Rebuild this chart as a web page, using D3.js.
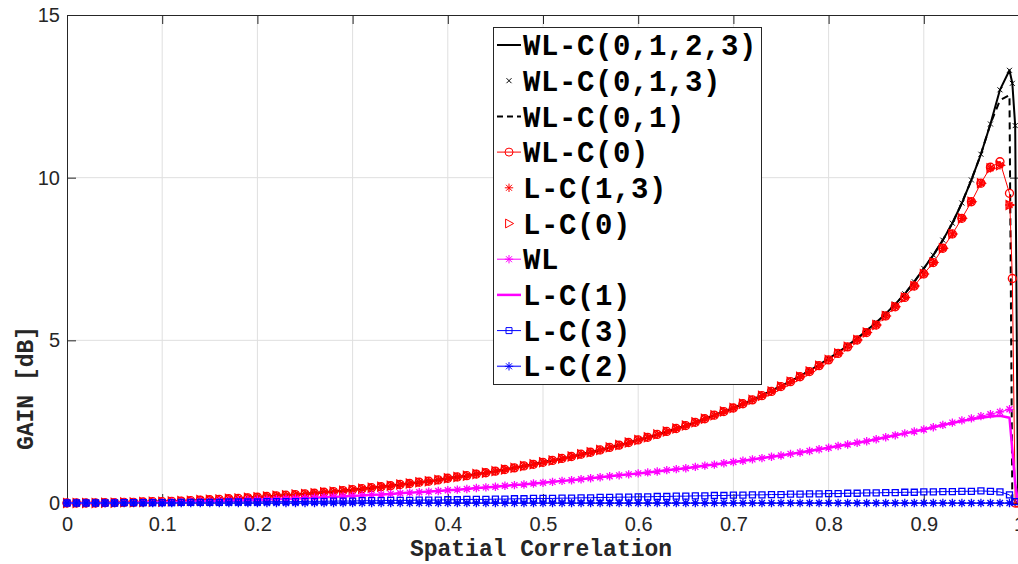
<!DOCTYPE html>
<html>
<head>
<meta charset="utf-8">
<script src="https://cdn.jsdelivr.net/npm/d3@7"></script>
<style>
  body { margin: 0; background: #fff; }
  svg { display: block; }
</style>
</head>
<body>
<svg></svg>
<script>
// sample positions: 0 .. 0.99 step 0.01, then a few points close to 1
var rho = d3.range(100).map(function(i){ return i / 100; });
var rhoTail = [0.993, 0.996, 0.999];

// WL-C(0,1,2,3)
var wlc0123 = [
  0.00,0.00,0.00,0.00,0.01,0.01,0.02,0.02,0.03,0.04,
  0.04,0.05,0.06,0.07,0.09,0.10,0.11,0.13,0.14,0.16,
  0.18,0.20,0.22,0.24,0.26,0.28,0.30,0.33,0.35,0.38,
  0.41,0.44,0.47,0.50,0.53,0.57,0.60,0.64,0.67,0.71,
  0.76,0.80,0.84,0.89,0.93,0.98,1.03,1.08,1.14,1.19,
  1.25,1.31,1.37,1.43,1.50,1.56,1.63,1.71,1.78,1.86,
  1.94,2.02,2.11,2.20,2.29,2.38,2.48,2.59,2.70,2.81,
  2.92,3.05,3.17,3.31,3.45,3.59,3.74,3.90,4.07,4.25,
  4.44,4.63,4.84,5.06,5.30,5.55,5.82,6.11,6.43,6.80,
  7.21,7.62,8.08,8.60,9.22,9.93,10.72,11.65,12.70,13.30
];
var wlc0123Tail = [12.9, 11.6, 0];

// WL-C(0,1,3) markers sit on the same curve
var wlc013 = wlc0123;
var wlc013Tail = wlc0123Tail;

// WL-C(0,1) dashed: same until the peak, then drops early
var wlc01 = wlc0123.slice(0, 98).concat([12.38, 12.54]);
var wlc01Tail = [0, 0, 0];

// WL-C(0) red circles
var wlc0 = wlc0123.slice(0, 73).concat([
  3.30,3.43,3.58,3.73,3.88,4.04,4.22,
  4.40,4.60,4.80,5.01,5.24,5.47,5.75,6.03,6.32,6.67,
  7.04,7.39,7.83,8.27,8.75,9.26,9.83,10.32,10.49,9.52
]);
var wlc0Tail = [6.9, 0, 0];

// L-C(1,3) and L-C(0), red markers only
var lc13 = wlc0.slice(0, 97).concat([10.29, 10.38, 9.16]);
var lc0 = wlc0.slice(0, 97).concat([10.29, 10.38, 9.16]);
var noTail = [null, null, null];

// WL magenta with asterisks
var wl = [
  0.00,0.00,0.00,0.00,0.00,0.01,0.01,0.01,0.02,0.02,
  0.02,0.03,0.03,0.04,0.05,0.05,0.06,0.07,0.08,0.09,
  0.10,0.11,0.12,0.13,0.14,0.15,0.16,0.18,0.19,0.20,
  0.22,0.23,0.25,0.26,0.28,0.30,0.32,0.33,0.35,0.37,
  0.39,0.41,0.43,0.46,0.48,0.50,0.53,0.55,0.57,0.60,
  0.62,0.65,0.68,0.70,0.73,0.76,0.79,0.82,0.85,0.88,
  0.91,0.94,0.97,1.01,1.04,1.07,1.11,1.15,1.18,1.22,
  1.26,1.30,1.34,1.38,1.42,1.46,1.51,1.55,1.60,1.65,
  1.70,1.75,1.80,1.85,1.90,1.96,2.02,2.08,2.14,2.20,
  2.26,2.33,2.40,2.47,2.54,2.60,2.67,2.73,2.80,2.88
];

// L-C(1) magenta thick line
var lc1 = wl.slice(0, 93).concat([2.46, 2.52, 2.57, 2.62, 2.66, 2.68, 2.62]);
var lc1Tail = [1.64, 0.6, 0];

// L-C(3) blue squares
var lc3 = [
  0.00,0.00,0.00,0.00,0.00,0.00,0.01,0.01,0.01,0.01,
  0.01,0.01,0.02,0.02,0.02,0.02,0.02,0.03,0.03,0.03,
  0.03,0.04,0.04,0.04,0.04,0.05,0.05,0.05,0.06,0.06,
  0.06,0.07,0.07,0.07,0.08,0.08,0.08,0.09,0.09,0.09,
  0.10,0.10,0.11,0.11,0.11,0.12,0.12,0.13,0.13,0.14,
  0.14,0.14,0.15,0.15,0.16,0.16,0.17,0.17,0.18,0.18,
  0.19,0.19,0.20,0.20,0.21,0.21,0.22,0.22,0.23,0.23,
  0.24,0.24,0.25,0.25,0.26,0.26,0.27,0.27,0.28,0.28,
  0.29,0.29,0.30,0.30,0.31,0.31,0.32,0.32,0.33,0.33,
  0.34,0.34,0.35,0.35,0.36,0.36,0.37,0.36,0.34,0.25
];
var lc3Tail = [null, 0.04, null];

// L-C(2) blue asterisks, flat at zero
var lc2 = [
  0,0,0,0,0,0,0,0,0,0,
  0,0,0,0,0,0,0,0,0,0,
  0,0,0,0,0,0,0,0,0,0,
  0,0,0,0,0,0,0,0,0,0,
  0,0,0,0,0,0,0,0,0,0,
  0,0,0,0,0,0,0,0,0,0,
  0,0,0,0,0,0,0,0,0,0,
  0,0,0,0,0,0,0,0,0,0,
  0,0,0,0,0,0,0,0,0,0,
  0,0,0,0,0,0,0,0,0,0
];

var xTicks = [0,0.1,0.2,0.3,0.4,0.5,0.6,0.7,0.8,0.9,1];
var yTicks = [0,5,10,15];

var series = [
  {name:'WL-C(0,1,2,3)', v:wlc0123, t:wlc0123Tail, color:'#000', lw:2, line:true},
  {name:'WL-C(0,1,3)', v:wlc013, t:wlc013Tail, color:'#000', line:false, marker:'x'},
  {name:'WL-C(0,1)', v:wlc01, t:wlc01Tail, color:'#000', lw:2, line:true, dash:'7,5'},
  {name:'WL-C(0)', v:wlc0, t:wlc0Tail, color:'#ff0000', lw:1, line:true, marker:'o'},
  {name:'L-C(1,3)', v:lc13, t:noTail, color:'#ff0000', line:false, marker:'*'},
  {name:'L-C(0)', v:lc0, t:noTail, color:'#ff0000', line:false, marker:'>'},
  {name:'WL', v:wl, t:noTail, color:'#ff00ff', lw:1, line:true, marker:'*'},
  {name:'L-C(1)', v:lc1, t:lc1Tail, color:'#ff00ff', lw:2.5, line:true},
  {name:'L-C(3)', v:lc3, t:lc3Tail, color:'#0000ff', lw:1, line:true, marker:'s'},
  {name:'L-C(2)', v:lc2, t:noTail, color:'#0000ff', lw:1.5, line:true, marker:'*', lineColor:'#4646ff'}
];

var w = 1018, h = 564;
var svg = d3.select('svg').attr('width', w).attr('height', h);

var x = d3.scaleLinear().domain([0, 1]).range([67, 1019]);
var y = d3.scaleLinear().domain([0, 15]).range([503, 15]);

var axisColor = '#262626';
var tickFont = '"Liberation Sans", Arial, Helvetica, sans-serif';
var monoFont = '"Liberation Mono", "Courier New", monospace';

// grid
var grid = svg.append('g');
grid.selectAll('.gx').data(xTicks.slice(1, -1)).enter().append('line')
  .attr('x1', function(d){ return x(d); }).attr('x2', function(d){ return x(d); })
  .attr('y1', y(0)).attr('y2', y(15))
  .attr('stroke', '#dfdfdf').attr('stroke-width', 1);
grid.selectAll('.gy').data(yTicks.slice(1, -1)).enter().append('line')
  .attr('x1', x(0)).attr('x2', x(1))
  .attr('y1', function(d){ return y(d); }).attr('y2', function(d){ return y(d); })
  .attr('stroke', '#dfdfdf').attr('stroke-width', 1);

// axes (ticks pointing inward)
var xAxis = svg.append('g').attr('transform', 'translate(0,' + y(0) + ')')
  .call(d3.axisBottom(x).tickValues(xTicks).tickFormat(d3.format('')).tickSizeInner(-9).tickSizeOuter(0).tickPadding(14));
var xTop = svg.append('g').attr('transform', 'translate(0,' + y(15) + ')')
  .call(d3.axisTop(x).tickValues(xTicks).tickFormat('').tickSizeInner(-9).tickSizeOuter(0));
var yAxis = svg.append('g').attr('transform', 'translate(' + x(0) + ',0)')
  .call(d3.axisLeft(y).tickValues(yTicks).tickFormat(d3.format('')).tickSizeInner(-9).tickSizeOuter(0).tickPadding(7));
var yRight = svg.append('g').attr('transform', 'translate(' + x(1) + ',0)')
  .call(d3.axisRight(y).tickValues(yTicks).tickFormat('').tickSizeInner(-9).tickSizeOuter(0));

[xAxis, xTop, yAxis, yRight].forEach(function(a){
  a.select('.domain').attr('stroke', axisColor).attr('stroke-width', 1);
  a.selectAll('.tick line').attr('stroke', axisColor);
  a.selectAll('.tick text').attr('fill', axisColor)
    .style('font-family', tickFont).style('font-size', '20px');
});

// marker shapes
function markerPath(type) {
  if (type === 'x') return 'M-2.5,-2.5L2.5,2.5M-2.5,2.5L2.5,-2.5';
  if (type === '*') return 'M-4.2,0H4.2M0,-4.2V4.2M-3,-3L3,3M-3,3L3,-3';
  if (type === 'o') return 'M4,0A4,4 0 1,1 -4,0A4,4 0 1,1 4,0Z';
  if (type === '>') return 'M-3.4,-4.4L4.6,0L-3.4,4.4Z';
  if (type === 's') return 'M-3,-3H3V3H-3Z';
  return '';
}

function points(s) {
  var xs = rho.concat(rhoTail);
  var vs = s.v.concat(s.t);
  return xs.map(function(r, i){ return {x: r, y: vs[i]}; })
           .filter(function(d){ return d.y != null; });
}

var line = d3.line().x(function(d){ return x(d.x); }).y(function(d){ return y(d.y); });

var plot = svg.append('g');
series.forEach(function(s){
  var pts = points(s);
  var g = plot.append('g');
  if (s.line) {
    g.append('path').datum(pts)
      .attr('d', line)
      .attr('fill', 'none')
      .attr('stroke', s.lineColor || s.color)
      .attr('stroke-width', s.lw)
      .attr('stroke-dasharray', s.dash || null)
      .attr('stroke-linejoin', 'round');
  }
  if (s.marker) {
    g.selectAll('path.m').data(pts).enter().append('path')
      .attr('class', 'm')
      .attr('transform', function(d){ return 'translate(' + x(d.x) + ',' + y(d.y) + ')'; })
      .attr('d', markerPath(s.marker))
      .attr('fill', 'none')
      .attr('stroke', s.color)
      .attr('stroke-width', s.marker === 'x' ? 1 : 1.3);
  }
});

// axis titles
svg.append('text')
  .attr('x', 541).attr('y', 556)
  .attr('text-anchor', 'middle')
  .style('font-family', monoFont).style('font-weight', 'bold').style('font-size', '23px')
  .attr('fill', axisColor)
  .text('Spatial Correlation');

svg.append('text')
  .attr('transform', 'translate(33,388) rotate(-90)')
  .attr('text-anchor', 'middle')
  .style('font-family', monoFont).style('font-weight', 'bold').style('font-size', '23px')
  .attr('fill', axisColor)
  .text('GAIN [dB]');

// legend
var legend = svg.append('g');
legend.append('rect')
  .attr('x', 493.5).attr('y', 27.5).attr('width', 268).attr('height', 357)
  .attr('fill', '#fff').attr('stroke', axisColor).attr('stroke-width', 1);

series.forEach(function(s, i){
  var cy = 45 + i * 35.7;
  var row = legend.append('g');
  if (s.line) {
    row.append('line')
      .attr('x1', 497).attr('x2', 521).attr('y1', cy).attr('y2', cy)
      .attr('stroke', s.lineColor || s.color)
      .attr('stroke-width', s.lw)
      .attr('stroke-dasharray', s.dash ? '6,4' : null);
  }
  if (s.marker) {
    row.append('path')
      .attr('transform', 'translate(509,' + cy + ')')
      .attr('d', markerPath(s.marker))
      .attr('fill', 'none').attr('stroke', s.color).attr('stroke-width', 1);
  }
  row.append('text')
    .attr('x', 523).attr('y', cy).attr('dy', '0.35em')
    .style('font-family', monoFont).style('font-weight', 'bold').style('font-size', '29px')
    .style('letter-spacing', '0.6px')
    .attr('fill', '#000')
    .text(s.name);
});
</script>
</body>
</html>
